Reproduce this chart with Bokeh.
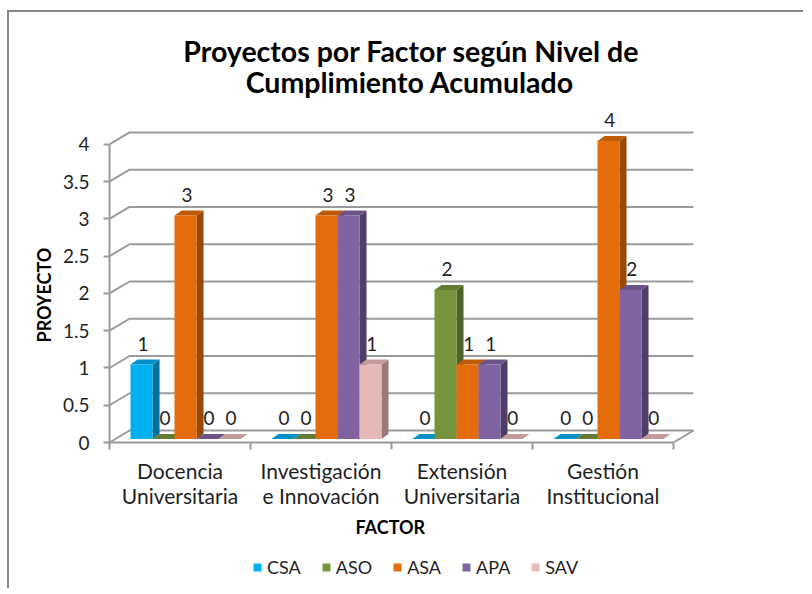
from bokeh.plotting import figure
from bokeh.layouts import column
from bokeh.models import (Range1d, FixedTicker, NumeralTickFormatter, Title,
                          Legend, LegendItem, ColumnDataSource)
from bokeh.core.properties import value
from bokeh.embed import file_html
from bokeh.resources import INLINE

# ---------------- data ----------------
categories = ["Docencia\nUniversitaria", "Investigación\ne Innovación",
              "Extensión\nUniversitaria", "Gestión\nInstitucional"]
series_names = ["CSA", "ASO", "ASA", "APA", "SAV"]
csa = [1, 0, 0, 0]
aso = [0, 0, 2, 0]
asa = [3, 3, 1, 4]
apa = [0, 3, 1, 2]
sav = [0, 1, 0, 0]
y_ticks = [0, 0.5, 1, 1.5, 2, 2.5, 3, 3.5, 4]
title_line1 = "Proyectos por Factor según Nivel de"
title_line2 = "Cumplimiento Acumulado"

front_colors = ["#00B0F0", "#77933C", "#E46C0A", "#8064A2", "#E6B9B8"]
side_colors = ["#00729C", "#4F6228", "#984807", "#4F3D6B", "#9A7B7A"]
top_colors = ["#0092C6", "#637B32", "#BF5A08", "#6B5388", "#C29B9A"]

series_values = [csa, aso, asa, apa, sav]

# ---------------- style constants ----------------
FONT = "Lato"
TXT = "#1f1f1f"
GRID = "#9a9a9a"
DX, DY = 0.142, 0.161       # wall depth (category units / value units)
BW, OFF = 0.156, 0.149      # bar width and left offset within category
BDX, BDY = 0.05, 0.067      # bar depth
Z0 = 0.047                  # bar depth shift
LAB = 0.28                  # label offset above bar
PAD2 = "\u00a0" * 9         # centres the second title line in the block

p = figure(frame_width=604, frame_height=337,
           x_range=Range1d(0.5, 4.784), y_range=Range1d(0, 4.523),
           output_backend="svg", toolbar_location=None,
           min_border_left=100, min_border_right=92,
           min_border_top=93, min_border_bottom=110)
p.outline_line_color = None
p.xgrid.visible = False
p.ygrid.visible = False
p.background_fill_color = "white"
p.border_fill_color = "white"

# ---------------- title ----------------
p.title.text = title_line1 + "\n" + PAD2 + title_line2
p.title.align = "center"
p.title.text_font = FONT
p.title.text_font_size = "28.5px"
p.title.text_font_style = "bold"
p.title.text_color = "black"
p.title.text_line_height = 0.918
p.title.standoff = 13.5

# ---------------- back wall gridlines ----------------
gx, gy = [], []
x_left, x_right = 0.5, 4.5
for t in y_ticks:
    gx.append([x_left, x_left + DX, x_right + DX])
    gy.append([t, t + DY, t + DY])
gx.append([x_right, x_right + DX])
gy.append([0, DY])
p.multi_line(gx, gy, line_color=GRID, line_width=2)

# ---------------- 3D bars ----------------
for s, (name, vals) in enumerate(zip(series_names, series_values)):
    left = [c + 1 - 0.5 + OFF + s * BW for c in range(len(vals))]
    right = [l + BW for l in left]
    bottom = [Z0 for _ in vals]
    top = [v + Z0 for v in vals]
    side_xs = [[r, r + BDX, r + BDX, r] for r in right]
    side_ys = [[b, b + BDY, t + BDY, t] for b, t in zip(bottom, top)]
    top_xs = [[l, r, r + BDX, l + BDX] for l, r in zip(left, right)]
    top_ys = [[t, t, t + BDY, t + BDY] for t in top]
    p.patches(side_xs, side_ys, fill_color=side_colors[s], line_color=None)
    p.patches(top_xs, top_ys, fill_color=top_colors[s], line_color=None)
    src = ColumnDataSource(dict(left=left, right=right, bottom=bottom, top=top))
    p.quad(left="left", right="right", bottom="bottom", top="top",
           source=src, fill_color=front_colors[s], line_color=None)
    lab = ColumnDataSource(dict(x=[(l + rr) / 2 + 0.01 for l, rr in zip(left, right)],
                                y=[t + LAB for t in top],
                                text=[str(v) for v in vals]))
    p.text(x="x", y="y", text="text", source=lab, text_align="center",
           text_baseline="middle", text_font=value(FONT),
           text_font_size="19px", text_color=TXT)

# ---------------- axes ----------------
ya = p.yaxis[0]
ya.ticker = FixedTicker(ticks=y_ticks)
ya.formatter = NumeralTickFormatter(format="0.[0]")
ya.bounds = (0, 4)
ya.axis_line_color = GRID
ya.axis_line_width = 2
ya.major_tick_line_color = GRID
ya.major_tick_line_width = 2
ya.major_tick_out = 6
ya.major_tick_in = 0
ya.minor_tick_line_color = None
ya.major_label_standoff = 14
ya.major_label_text_font = FONT
ya.major_label_text_font_size = "19px"
ya.major_label_text_color = TXT

xa = p.xaxis[0]
xa.ticker = FixedTicker(ticks=[1, 2, 3, 4], minor_ticks=[0.5, 1.5, 2.5, 3.5, 4.5])
xa.major_label_overrides = {i + 1: categories[i] for i in range(len(categories))}
xa.bounds = (0.5, 4.5)
xa.axis_line_color = GRID
xa.axis_line_width = 2
xa.major_tick_line_color = None
xa.major_tick_out = 0
xa.major_tick_in = 0
xa.minor_tick_line_color = GRID
xa.minor_tick_line_width = 2
xa.minor_tick_out = 7
xa.minor_tick_in = 0
xa.major_label_standoff = 8
xa.major_label_text_font = FONT
xa.major_label_text_font_size = "21px"
xa.major_label_text_line_height = 1.0
xa.major_label_text_color = TXT

# axis titles (placed as side titles so they centre on the axis extent)
ylab = Title(text="PROYECTO", align="left", offset=100, text_font=FONT,
             text_font_size="18px", text_font_style="bold",
             text_color="black", standoff=10)
p.add_layout(ylab, "left")
xlab = Title(text="FACTOR", align="left", offset=246, text_font=FONT,
             text_font_size="18px", text_font_style="bold",
             text_color="black", standoff=6)
p.add_layout(xlab, "below")

# ---------------- legend (separate strip below the chart) ----------------
pl = figure(width=796, height=38, output_backend="svg", toolbar_location=None,
            x_range=Range1d(0, 1), y_range=Range1d(0, 1),
            x_axis_type=None, y_axis_type=None,
            min_border_left=0, min_border_right=0, min_border_top=0,
            min_border_bottom=0)
pl.outline_line_color = None
pl.xgrid.visible = False
pl.ygrid.visible = False
pl.background_fill_color = "white"
pl.border_fill_color = "white"
items = []
for s, name in enumerate(series_names):
    # zero-area swatch carrier (draws nothing in the strip itself)
    rr = pl.quad(left=[0], right=[0], bottom=[0], top=[0],
                 fill_color=front_colors[s], line_color=None)
    items.append(LegendItem(label=name, renderers=[rr]))
legend = Legend(items=items, orientation="horizontal", location=(143, 12),
                glyph_width=10, glyph_height=10, label_standoff=5, spacing=20,
                padding=0, margin=0, border_line_color=None,
                background_fill_alpha=0, label_text_font=FONT,
                label_text_font_size="18px", label_text_color=TXT)
pl.add_layout(legend, "center")

layout = column(p, pl, spacing=0)
layout.styles = {"margin-left": "9px", "margin-top": "12px",
                 "box-shadow": "-2px -2px 0 0 #878787"}

open("out.html", "w").write(file_html(layout, INLINE))
